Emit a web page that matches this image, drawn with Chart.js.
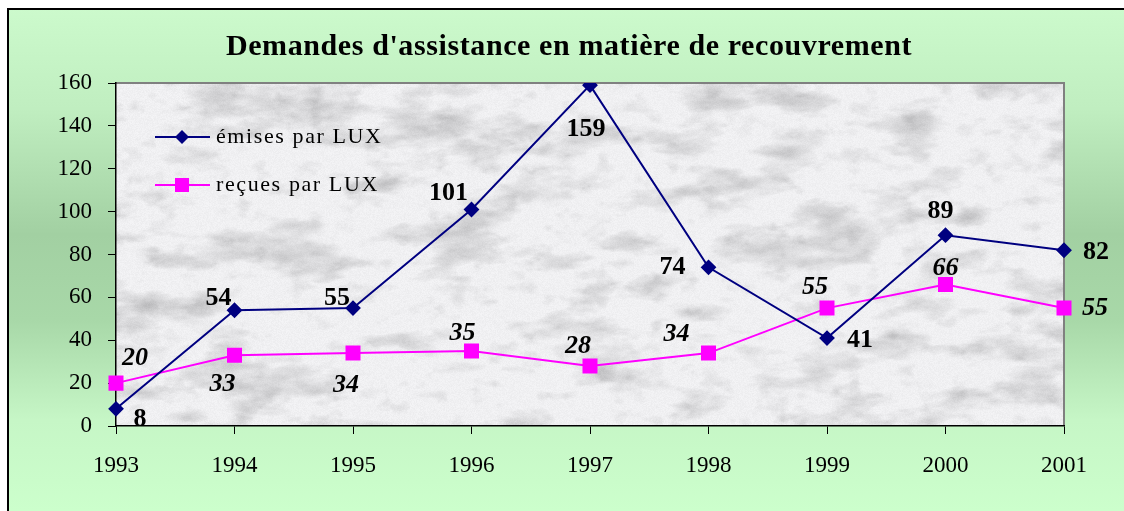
<!DOCTYPE html>
<html>
<head>
<meta charset="utf-8">
<script src="https://cdn.jsdelivr.net/npm/chart.js@4.4.1/dist/chart.umd.min.js"></script>
<style>
    html, body { margin: 0; padding: 0; background: #fff; }
    #wrap { width: 1124px; height: 511px; }
</style>
</head>
<body>
<div id="wrap"><canvas id="chart" width="1124" height="511"></canvas></div>
<script>
// Data
const years = ['1993', '1994', '1995', '1996', '1997', '1998', '1999', '2000', '2001'];
const emises = [8, 54, 55, 101, 159, 74, 41, 89, 82];
const recues = [20, 33, 34, 35, 28, 34, 55, 66, 55];
const yTicks = [0, 20, 40, 60, 80, 100, 120, 140, 160];

// label centre offsets from each point, in px
const emisesLabelOff = [[24, 9], [-16, -13], [-16, -11], [-23, -17], [-4, 43], [-36, -1], [33, 1], [-5, -25], [32, 1]];
const recuesLabelOff = [[19, -26], [-12, 28], [-7, 31], [-9, -19], [-12, -21], [-32, -20], [-12, -22], [0, -17], [31, -1]];

const SERIF = '"Liberation Serif", "Times New Roman", serif';
Chart.defaults.font.family = SERIF;
Chart.defaults.font.size = 23;
Chart.defaults.color = '#000';

// marble-like texture (deterministic value noise)
function hash(x, y) {
    const s = Math.sin(x * 127.1 + y * 311.7) * 43758.5453;
    return s - Math.floor(s);
}
function vnoise(x, y) {
    const xi = Math.floor(x), yi = Math.floor(y);
    const xf = x - xi, yf = y - yi;
    const u = xf * xf * (3 - 2 * xf), v = yf * yf * (3 - 2 * yf);
    const a = hash(xi, yi), b = hash(xi + 1, yi), c = hash(xi, yi + 1), d = hash(xi + 1, yi + 1);
    return a + (b - a) * u + (c - a) * v + (a - b - c + d) * u * v;
}
function fbm(x, y) {
    let s = 0, amp = 0.5, f = 1;
    for (let o = 0; o < 5; o++) { s += amp * vnoise(x * f, y * f); amp *= 0.5; f *= 2; }
    return s;
}
function makeMarble(w, h) {
    const c = document.createElement('canvas');
    c.width = w; c.height = h;
    const g = c.getContext('2d');
    const img = g.createImageData(w, h);
    for (let y = 0; y < h; y++) {
        for (let x = 0; x < w; x++) {
            const n = fbm(x / 55 + y / 90, y / 22 - x / 400);
            const m = fbm(x / 18 + 40, y / 12 + 40);
            let dark = Math.max(0, n - 0.5) * 130 + Math.max(0, m - 0.55) * 60;
            dark = Math.min(dark, 50);
            const grain = (hash(x, y) - 0.5) * 8;
            const val = 240 - dark + grain;
            const i = (y * w + x) * 4;
            img.data[i] = val; img.data[i + 1] = val; img.data[i + 2] = val + 2; img.data[i + 3] = 255;
        }
    }
    g.putImageData(img, 0, 0);
    return c;
}
let marble = null;

const backdrop = {
    id: 'backdrop',
    beforeDraw(chart) {
        const { ctx, chartArea: a } = chart;
        ctx.save();
        const grad = ctx.createLinearGradient(0, 8, 0, 511);
        grad.addColorStop(0, '#ccfacc');
        grad.addColorStop(0.2, '#c0eec0');
        grad.addColorStop(0.45, '#a2d0a2');
        grad.addColorStop(0.62, '#a8d8a8');
        grad.addColorStop(0.82, '#c6f6c6');
        grad.addColorStop(1, '#ccffcc');
        ctx.fillStyle = grad;
        ctx.fillRect(7, 8, 1124 - 7, 511 - 8);
        ctx.strokeStyle = '#000';
        ctx.lineWidth = 2;
        ctx.beginPath();
        ctx.moveTo(8, 511); ctx.lineTo(8, 9); ctx.lineTo(1124, 9);
        ctx.stroke();

        const w = Math.round(a.right - a.left), h = Math.round(a.bottom - a.top);
        if (!marble) marble = makeMarble(w, h);
        ctx.drawImage(marble, a.left, a.top);
        ctx.strokeStyle = '#808080';
        ctx.lineWidth = 2;
        ctx.beginPath();
        ctx.moveTo(a.left, a.top); ctx.lineTo(a.right, a.top); ctx.lineTo(a.right, a.bottom);
        ctx.stroke();

        ctx.fillStyle = '#000';
        ctx.font = 'bold 30px ' + SERIF;
        ctx.letterSpacing = '0.6px';
        ctx.textAlign = 'center';
        ctx.textBaseline = 'middle';
        ctx.fillText("Demandes d'assistance en matière de recouvrement", 569, 47);
        ctx.restore();
    }
};

const extras = {
    id: 'extras',
    afterDatasetsDraw(chart) {
        const { ctx } = chart;
        ctx.save();
        ctx.fillStyle = '#000';
        ctx.textBaseline = 'middle';
        ctx.textAlign = 'center';
        const sets = [[0, emisesLabelOff, 'bold 26px '], [1, recuesLabelOff, 'italic bold 26px ']];
        sets.forEach(([di, off, font]) => {
            const meta = chart.getDatasetMeta(di);
            ctx.font = font + SERIF;
            meta.data.forEach((pt, i) => {
                ctx.fillText(chart.data.datasets[di].data[i], pt.x + off[i][0], pt.y + off[i][1] + 1);
            });
        });

        // legend inside the plot
        const lx = 155, ly = [137, 185];
        chart.data.datasets.forEach((ds, i) => {
            ctx.strokeStyle = ds.borderColor;
            ctx.lineWidth = 2;
            ctx.beginPath();
            ctx.moveTo(lx, ly[i]); ctx.lineTo(lx + 55, ly[i]);
            ctx.stroke();
            ctx.fillStyle = ds.borderColor;
            const cx = lx + 27, cy = ly[i];
            if (i === 0) {
                ctx.beginPath();
                ctx.moveTo(cx, cy - 7); ctx.lineTo(cx + 7, cy); ctx.lineTo(cx, cy + 7); ctx.lineTo(cx - 7, cy);
                ctx.closePath(); ctx.fill();
            } else {
                ctx.fillRect(cx - 7, cy - 7, 14, 14);
            }
            ctx.fillStyle = '#000';
            ctx.font = '22px ' + SERIF;
            ctx.letterSpacing = '1.6px';
            ctx.textAlign = 'left';
            ctx.fillText(ds.label, 216, cy);
            ctx.letterSpacing = '0px';
        });
        ctx.restore();
    }
};

new Chart(document.getElementById('chart'), {
    type: 'line',
    data: {
        labels: years,
        datasets: [
            {
                label: 'émises par LUX', data: emises,
                borderColor: '#000080', backgroundColor: '#000080',
                borderWidth: 2, pointStyle: 'rectRot', pointRadius: 6.5, tension: 0
            },
            {
                label: 'reçues par LUX', data: recues,
                borderColor: '#ff00ff', backgroundColor: '#ff00ff',
                borderWidth: 2, pointStyle: 'rect', pointRadius: 9.2, tension: 0
            }
        ]
    },
    options: {
        responsive: false,
        animation: false,
        layout: { padding: { top: 83, right: 60, left: 0, bottom: 0 } },
        plugins: { legend: { display: false }, tooltip: { enabled: false } },
        scales: {
            x: {
                offset: false,
                grid: { drawOnChartArea: false, drawTicks: true, tickLength: 8, color: '#000' },
                border: { color: '#000', width: 1.5 },
                ticks: { color: '#000', font: { family: SERIF, size: 23 }, padding: 18, maxRotation: 0 },
                afterFit(s) { s.height = 85; }
            },
            y: {
                min: 0, max: 160,
                afterBuildTicks(s) { s.ticks = yTicks.map(v => ({ value: v })); },
                grid: { drawOnChartArea: false, drawTicks: true, tickLength: 8, color: '#000' },
                border: { color: '#000', width: 1.5 },
                ticks: { color: '#000', font: { family: SERIF, size: 23 }, padding: 16 },
                afterFit(s) { s.width = 116; }
            }
        }
    },
    plugins: [backdrop, extras]
});
</script>
</body>
</html>
